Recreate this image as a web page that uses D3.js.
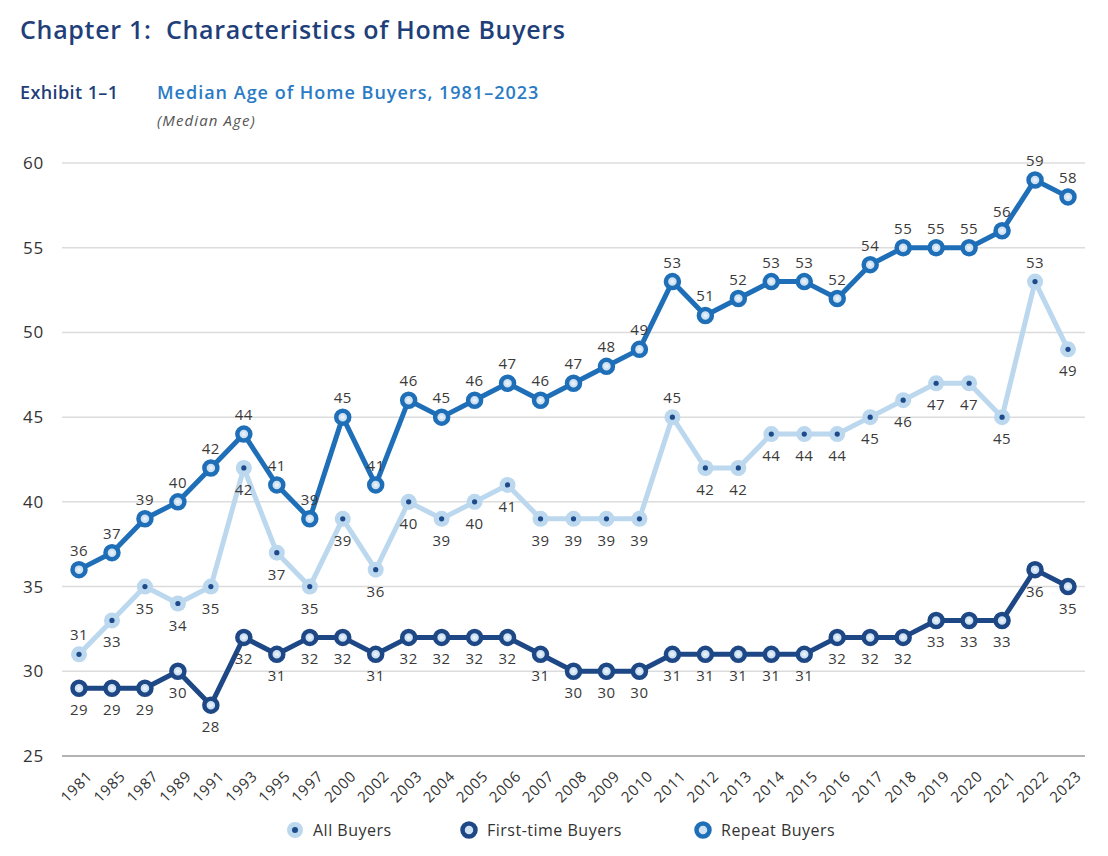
<!DOCTYPE html>
<html>
<head>
<meta charset="utf-8">
<script src="https://cdn.jsdelivr.net/npm/d3@7"></script>
<style>
  html, body { margin: 0; padding: 0; background: #fff; }
  svg { display: block; }
  text { font-family: "Open Sans", "Noto Sans", sans-serif; }
</style>
</head>
<body>
<svg id="chart" width="1108" height="856"></svg>
<script>
const years = ["1981","1985","1987","1989","1991","1993","1995","1997","2000","2002","2003","2004","2005","2006","2007","2008","2009","2010","2011","2012","2013","2014","2015","2016","2017","2018","2019","2020","2021","2022","2023"];
const allBuyers = [31,33,35,34,35,42,37,35,39,36,40,39,40,41,39,39,39,39,45,42,42,44,44,44,45,46,47,47,45,53,49];
const firstTime = [29,29,29,30,28,32,31,32,32,31,32,32,32,32,31,30,30,30,31,31,31,31,31,32,32,32,33,33,33,36,35];
const repeat = [36,37,39,40,42,44,41,39,45,41,46,45,46,47,46,47,48,49,53,51,52,53,53,52,54,55,55,55,56,59,58];
// All Buyers labels drawn above the point for these years (others below)
const allAbove = ["1981","2011","2022"];
const yTicks = [25,30,35,40,45,50,55,60];

const svg = d3.select("#chart");

// soft shadow at bottom
const defs = svg.append("defs");
const rg = defs.append("radialGradient").attr("id","shadow").attr("cx","50%").attr("cy","100%").attr("r","50%");
rg.append("stop").attr("offset","0%").attr("stop-color","#000").attr("stop-opacity",0.10);
rg.append("stop").attr("offset","100%").attr("stop-color","#000").attr("stop-opacity",0);
svg.append("ellipse").attr("cx",560).attr("cy",885).attr("rx",440).attr("ry",55).attr("fill","url(#shadow)");

// Titles
svg.append("text").attr("x",20).attr("y",39).attr("font-size",25).attr("font-weight",600)
  .attr("letter-spacing",0.7).attr("fill","#1f3f7a").text("Chapter 1:\u00a0 Characteristics of Home Buyers");
svg.append("text").attr("x",20).attr("y",99).attr("font-size",18).attr("font-weight",600)
  .attr("letter-spacing",0.4).attr("fill","#1f3f7a").text("Exhibit 1–1");
svg.append("text").attr("x",157).attr("y",99).attr("font-size",18).attr("font-weight",600)
  .attr("letter-spacing",1.0).attr("fill","#2a7bc4").text("Median Age of Home Buyers, 1981–2023");
svg.append("text").attr("x",157).attr("y",126).attr("font-size",15).attr("font-style","italic")
  .attr("letter-spacing",1.1).attr("fill","#555").text("(Median Age)");

const x = d3.scalePoint().domain(years).range([79, 1068]);
const y = d3.scaleLinear().domain([25, 60]).range([756, 163]);

// gridlines
const grid = svg.append("g");
grid.selectAll("line").data(yTicks).join("line")
  .attr("x1", 62).attr("x2", 1085)
  .attr("y1", d => y(d)).attr("y2", d => y(d))
  .attr("stroke", d => d === 25 ? "#9a9a9a" : "#dcdcdc")
  .attr("stroke-width", 1.5);

// y axis labels
const yAxis = d3.axisLeft(y).tickValues(yTicks).tickSize(0).tickPadding(0);
const yg = svg.append("g").attr("transform","translate(44,0)").call(yAxis);
yg.select(".domain").remove();
yg.selectAll("text").attr("font-size",17).attr("fill","#333").attr("letter-spacing",0.8)
  .attr("font-family","'Open Sans', sans-serif");

// x axis labels
const xAxis = d3.axisBottom(x).tickSize(0).tickPadding(0);
const xg = svg.append("g").attr("transform","translate(0,756)").call(xAxis);
xg.select(".domain").remove();
xg.selectAll("text").attr("font-size",15).attr("fill","#333").attr("letter-spacing",0.8)
  .attr("font-family","'Open Sans', sans-serif")
  .attr("text-anchor","end")
  .attr("dy",null).attr("y",null)
  .attr("transform","translate(14,21) rotate(-45)");

const cLight = "#bcd8ee", cNavy = "#1e4786", cMid = "#1f6fb8", cDot = "#1d4a8a", cCenter = "#cfe2f3";

const line = d3.line().x((d,i) => x(years[i])).y(d => y(d));

function drawSeries(vals, color, kind, labelPos) {
  const g = svg.append("g");
  g.append("path").datum(vals).attr("d", line).attr("fill","none")
    .attr("stroke", color).attr("stroke-width", 5).attr("stroke-linejoin","round");
  const pts = g.selectAll("g.pt").data(vals).join("g").attr("class","pt")
    .attr("transform",(d,i) => `translate(${x(years[i])},${y(d)})`);
  if (kind === "all") {
    pts.append("circle").attr("r",8).attr("fill",cLight);
    pts.append("circle").attr("r",2.6).attr("fill",cDot);
  } else {
    pts.append("circle").attr("r",6.5).attr("fill",cCenter).attr("stroke",color).attr("stroke-width",4.5);
    pts.append("circle").attr("r",2).attr("fill","#e6f0f9");
  }
  g.selectAll("text.lbl").data(vals).join("text").attr("class","lbl")
    .attr("x",(d,i) => x(years[i]))
    .attr("y",(d,i) => y(d) + (labelPos(i) ? -14 : 27))
    .attr("text-anchor","middle").attr("font-size",15).attr("letter-spacing",0.5)
    .attr("fill","#3a3a3a")
    .text(d => d);
}

drawSeries(allBuyers, cLight, "all", i => allAbove.includes(years[i]));
drawSeries(firstTime, cNavy, "ring", i => false);
drawSeries(repeat, cMid, "ring", i => true);

// Legend
const legend = [
  {name:"All Buyers", kind:"all", color:cLight, x:295},
  {name:"First-time Buyers", kind:"ring", color:cNavy, x:469},
  {name:"Repeat Buyers", kind:"ring", color:cMid, x:703}
];
const lg = svg.append("g").selectAll("g").data(legend).join("g")
  .attr("transform", d => `translate(${d.x},830)`);
lg.each(function(d){
  const s = d3.select(this);
  if (d.kind === "all") {
    s.append("circle").attr("r",8).attr("fill",cLight);
    s.append("circle").attr("r",3).attr("fill",cDot);
  } else {
    s.append("circle").attr("r",6.5).attr("fill",cCenter).attr("stroke",d.color).attr("stroke-width",4.5);
  }
  s.append("text").attr("x",18).attr("y",5.5).attr("font-size",16).attr("letter-spacing",0.5)
    .attr("fill","#333").text(d.name);
});
</script>
</body>
</html>
